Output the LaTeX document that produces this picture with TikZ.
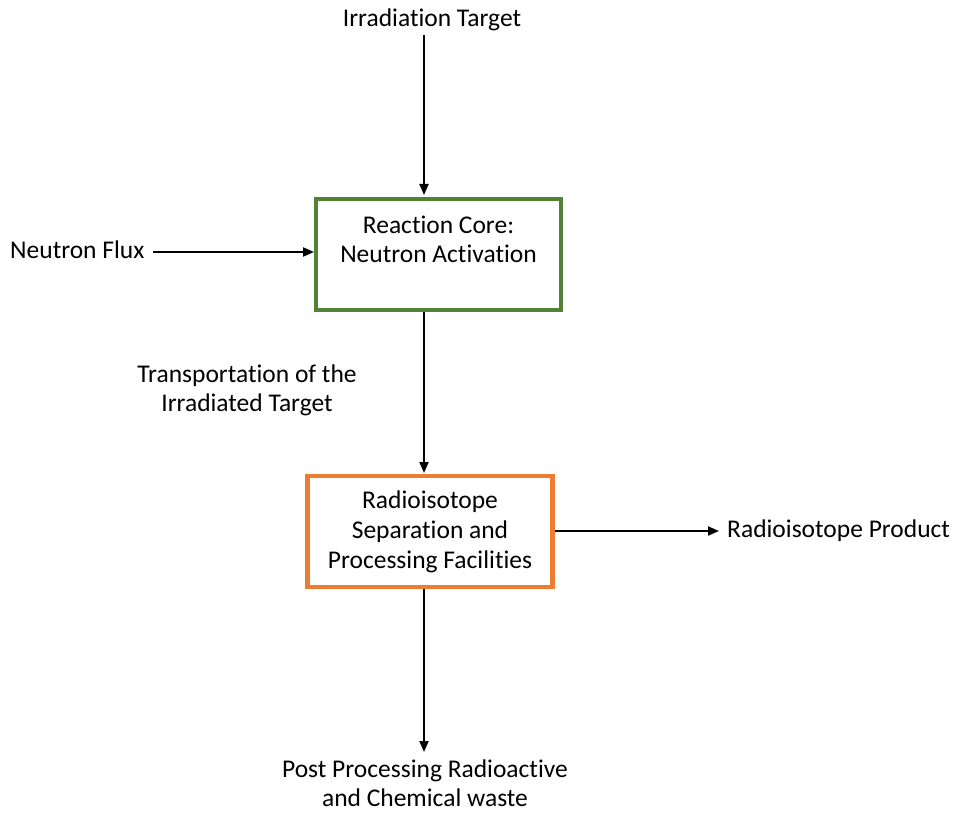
\documentclass[tikz,border=0pt]{standalone}
\usepackage{fontspec}
\setmainfont{Carlito}[Ligatures={NoCommon,NoRare}]
\usetikzlibrary{arrows.meta}
\definecolor{boxgreen}{HTML}{548235}
\definecolor{boxorange}{HTML}{ED7D31}
\begin{document}
\begin{tikzpicture}[x=1pt,y=-1pt,
  lbl/.style={font=\fontsize{25.5}{29}\selectfont, align=center, inner sep=0pt},
  boxn/.style={draw, line width=4.5pt, fill=white, minimum width=245pt, align=center, font=\fontsize{25.5}{30}\selectfont, inner sep=0pt},
  arr/.style={line width=2pt, -{Triangle[length=11pt,width=9pt]}}]
\useasboundingbox (0,0) rectangle (956,813);
\node[boxn, draw=boxgreen, minimum height=111pt] (core) at (438.5,254.5) {};
\node[lbl, anchor=center] (coretxt) at (438.5,239) {Reaction Core:\\Neutron Activation};
\node[boxn, draw=boxorange, minimum height=111pt] (sep) at (430,531.5) {Radioisotope\\Separation and\\Processing Facilities};
\node[lbl] (target) at (432,20) {Irradiation Target};
\node[lbl, anchor=west] (flux) at (10,250) {Neutron Flux};
\node[lbl] (trans) at (247,390) {Transportation of the\\Irradiated Target};
\node[lbl, anchor=west] (prod) at (727,531) {Radioisotope Product};
\node[lbl] (waste) at (425,783) {Post Processing Radioactive\\and Chemical waste};
\coordinate (t1) at (424,35);
\coordinate (t2) at (424,195);
\draw[arr] (t1) -- (t2);
\coordinate (f1) at (153,252);
\coordinate (f2) at (314,252);
\draw[arr] (f1) -- (f2);
\coordinate (c1) at (424,312);
\coordinate (c2) at (424,473);
\draw[arr] (c1) -- (c2);
\coordinate (p1) at (555,531);
\coordinate (p2) at (719,531);
\draw[arr] (p1) -- (p2);
\coordinate (w1) at (424,589);
\coordinate (w2) at (424,752);
\draw[arr] (w1) -- (w2);
\end{tikzpicture}
\end{document}
